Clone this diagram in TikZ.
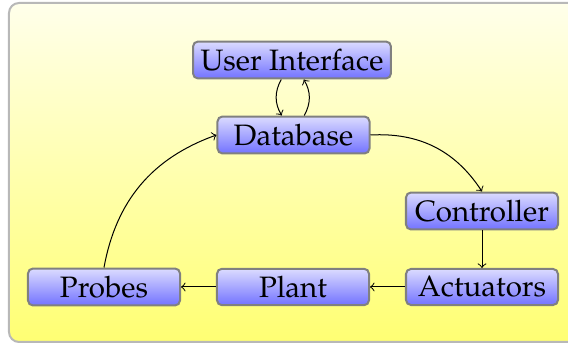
\documentclass[tikz,border=0pt]{standalone}
\usepackage[T1]{fontenc}
\usepackage{mathpazo}
\usetikzlibrary{arrows}
\begin{document}
\begin{tikzpicture}[x=0.4pt,y=-0.4pt,
  block/.style={draw=black!50, line width=0.8pt, rounded corners=2pt,
    top color=blue!14!white, bottom color=blue!55!white,
    minimum width=60.8pt, minimum height=14.4pt, inner sep=3pt,
    font=\fontsize{11.8}{14}\selectfont},
  link/.style={->, >=to, line width=0.4pt}]
  \clip (0,0) rectangle (568,344);
  \useasboundingbox (0,0) rectangle (568,344);
  % shaded backdrop
  \draw[draw=black!28, line width=0.8pt, rounded corners=4pt,
    top color=yellow!8!white, bottom color=yellow!55!white]
    (9,3) rectangle (590,342);
  % components
  \node[block] (ui)    at (292,60)  {User Interface};
  \node[block] (db)    at (293.5,135) {Database};
  \node[block] (ctrl)  at (482,211) {Controller};
  \node[block] (act)   at (482,287) {Actuators};
  \node[block] (plant) at (293,287) {Plant};
  \node[block] (probe) at (104,287) {Probes};
  % signal flow
  \draw[link] (ui) to[bend right] (db);
  \draw[link] (db) to[bend right] (ui);
  \draw[link] (db.east) to[bend left] (ctrl.north);
  \draw[link] (ctrl) -- (act);
  \draw[link] (act) -- (plant);
  \draw[link] (plant) -- (probe);
  \draw[link] (probe.north) to[bend left] (db.west);
\end{tikzpicture}
\end{document}
